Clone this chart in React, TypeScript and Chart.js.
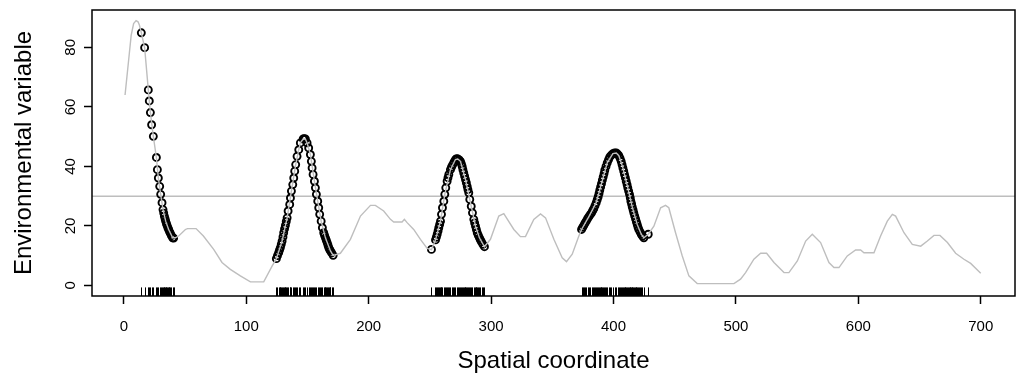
import React, { useEffect, useRef } from 'react';
import { Chart, registerables } from 'chart.js';

Chart.register(...registerables);

// Gray environmental curve (x, y)
const lineX = [1, 4, 6, 8, 10, 11.6, 12.7, 14.3, 17, 20, 21.7, 24.1, 26.6, 28.2, 30.1, 32, 34.2, 36.6, 39.9, 42, 44.8, 50.3, 52, 59, 65, 73.4, 80.2, 87, 95.2, 103.4, 114.3, 121.1, 124.6, 129.3, 133.4, 136.9, 140.4, 142.9, 144.2, 146.5, 148.3, 149.7, 152.4, 155.7, 158.4, 161.2, 164.7, 168.8, 171, 176.9, 185.1, 193.3, 201.5, 205.5, 212.3, 217.8, 220.5, 227.3, 229.2, 231.4, 236.8, 242.3, 247.8, 251.3, 254.6, 258.7, 262.2, 266.8, 270.9, 272.8, 275, 279.1, 283.8, 287.3, 290.5, 294.6, 299.5, 306.3, 310.4, 318.6, 324, 328.1, 334.9, 340.4, 344.5, 351.3, 358.1, 361.6, 366.3, 371.7, 373.9, 379.9, 385.9, 390.2, 394.9, 399.5, 402.3, 404.4, 407.7, 411.7, 415.3, 419.4, 422.7, 424.8, 428.4, 433, 438.5, 442.5, 445.2, 450.7, 456.2, 461.6, 468.4, 498.4, 503.8, 507.9, 514.7, 520.2, 525.1, 531.1, 539.3, 543.3, 550.2, 557, 562.4, 569.2, 576, 580.1, 584.2, 591, 597.8, 601.9, 604.6, 612.8, 618.2, 623.7, 627.8, 630.5, 637.3, 644.1, 651, 656.4, 661.8, 666.7, 672.8, 679.5, 686.3, 691.8, 700];
const lineY = [64, 76, 84, 88, 89, 88.6, 87.5, 84.9, 79.9, 65.7, 58.1, 50.1, 43, 36.1, 30.6, 25.5, 21.6, 18.8, 16, 16, 16.6, 18.8, 19.1, 19.1, 16.6, 12.1, 7.7, 5.4, 3.2, 1.2, 1.2, 6.5, 9, 14.9, 22.7, 31.7, 40.6, 45.6, 47.9, 49.2, 49.2, 47.9, 44, 35, 28.3, 21.6, 16, 11.6, 10.1, 10.8, 15.5, 23.3, 26.9, 26.9, 25, 22.2, 21.3, 21.3, 22.2, 21.1, 18.8, 15.5, 12.4, 12, 15.3, 21.6, 30.6, 38.9, 42.3, 42.5, 41.7, 35.6, 26.6, 19.9, 16, 13, 15.5, 23.3, 24.1, 18.8, 16.4, 16.4, 22.2, 24, 22.7, 15.5, 9.3, 8, 10.5, 16.6, 18.8, 23.1, 27.8, 34.2, 41.2, 44.3, 44.5, 43.6, 39.5, 32.8, 26.4, 20.5, 17.2, 16, 17.2, 19.9, 26.1, 26.9, 26.1, 17.7, 9.9, 3.2, 0.6, 0.6, 2.1, 4.3, 8.8, 10.8, 10.8, 7.7, 4.3, 4.3, 8.2, 14.9, 17.2, 14.4, 7.7, 6, 6, 9.9, 11.9, 11.9, 11, 11, 16.6, 21.6, 23.9, 23.3, 17.7, 13.8, 13.2, 14.9, 16.8, 16.8, 14.4, 10.8, 8.8, 7.4, 4.1];

// Sampled locations (circles + rug)
const peak1X = [14.3, 17.0, 20.0, 20.8, 21.7, 22.7, 24.1, 26.6, 27.4, 28.2, 29.3, 30.1, 31.2, 32.0, 32.6, 33.1, 33.7, 34.2, 34.8, 35.3, 36.0, 36.6, 37.3, 38.0, 38.9, 39.9, 40.7];
const peak1Y = [84.9, 79.9, 65.7, 62.0, 58.1, 54.0, 50.1, 43.0, 38.9, 36.1, 33.3, 30.6, 27.8, 25.5, 24.3, 23.3, 22.4, 21.6, 20.8, 20.2, 19.4, 18.8, 18.1, 17.5, 16.7, 16.0, 15.9];
const peak2X = [124.6, 125.5, 126.5, 127.2, 127.9, 128.6, 129.3, 130.0, 130.6, 131.3, 132.0, 132.7, 133.4, 134.2, 135.5, 136.1, 136.9, 138.0, 138.8, 139.6, 140.4, 141.5, 142.9, 144.2, 146.5, 147.4, 148.3, 149.7, 151.0, 152.4, 153.2, 153.8, 154.6, 155.7, 156.5, 157.3, 158.4, 159.2, 160.0, 161.2, 162.2, 163.3, 164.0, 164.7, 165.4, 166.1, 166.8, 167.4, 168.1, 168.8, 169.8, 171.0];
const peak2Y = [9.0, 10.0, 11.0, 11.9, 12.7, 13.8, 14.9, 16.3, 17.7, 19.0, 20.2, 21.5, 22.7, 25.0, 27.2, 29.4, 31.7, 33.9, 36.1, 38.4, 40.6, 43.4, 45.6, 47.9, 49.2, 49.3, 49.2, 47.9, 46.2, 44.0, 41.7, 39.5, 37.3, 35.0, 32.8, 30.6, 28.3, 26.1, 23.9, 21.6, 19.4, 17.7, 16.8, 16.0, 15.2, 14.4, 13.5, 12.7, 12.1, 11.6, 10.9, 10.1];
const peak3X = [251.3, 254.6, 255.3, 256.0, 256.7, 257.3, 258.0, 258.7, 259.5, 260.3, 261.4, 262.2, 263.0, 264.1, 264.8, 265.5, 266.8, 267.7, 268.7, 269.8, 270.9, 271.9, 272.8, 274.0, 275.0, 275.7, 276.4, 277.0, 277.7, 278.4, 279.1, 279.8, 280.5, 281.1, 281.8, 282.6, 283.8, 284.8, 285.9, 286.6, 287.3, 288.0, 288.7, 289.6, 290.5, 291.3, 292.2, 293.3, 294.6];
const peak3Y = [12.1, 15.3, 16.2, 17.2, 18.3, 19.4, 20.5, 21.6, 23.9, 26.1, 28.3, 30.6, 32.8, 35.0, 36.2, 37.3, 38.9, 39.8, 40.6, 41.5, 42.3, 42.6, 42.5, 42.2, 41.7, 40.9, 40.0, 38.9, 37.8, 36.7, 35.6, 34.5, 33.3, 32.2, 31.1, 28.9, 26.6, 24.4, 22.2, 21.0, 19.9, 18.8, 17.7, 16.8, 16.0, 15.3, 14.6, 13.8, 13.0];
const peak4X = [373.9, 374.8, 375.8, 376.7, 377.7, 378.8, 379.9, 381.0, 382.1, 383.0, 383.9, 384.9, 385.9, 386.7, 387.5, 388.2, 388.8, 389.5, 390.2, 390.9, 391.6, 392.3, 392.9, 393.9, 394.9, 396.0, 397.0, 398.2, 399.5, 400.9, 402.3, 403.4, 404.4, 405.4, 406.3, 407.0, 407.7, 408.4, 409.0, 409.7, 410.4, 411.1, 411.7, 412.4, 413.1, 413.7, 414.2, 414.8, 415.3, 416.0, 416.6, 417.3, 418.0, 418.7, 419.4, 420.0, 420.7, 421.7, 422.7, 423.7, 424.8, 428.4];
const peak4Y = [18.8, 19.5, 20.2, 20.9, 21.6, 22.4, 23.1, 23.8, 24.4, 25.1, 25.8, 26.8, 27.8, 28.8, 29.8, 30.9, 32.0, 33.1, 34.2, 35.4, 36.5, 37.6, 38.7, 40.0, 41.2, 42.3, 43.2, 43.8, 44.3, 44.5, 44.5, 44.1, 43.6, 42.7, 41.7, 40.6, 39.5, 38.4, 37.3, 36.2, 35.0, 33.9, 32.8, 31.7, 30.6, 29.5, 28.3, 27.4, 26.4, 25.4, 24.4, 23.4, 22.4, 21.4, 20.5, 19.6, 18.8, 18.0, 17.2, 16.6, 16.0, 17.2];

const sampleX = [...peak1X, ...peak2X, ...peak3X, ...peak4X];
const sampleY = [...peak1Y, ...peak2Y, ...peak3Y, ...peak4Y];

const xTicks = [0, 100, 200, 300, 400, 500, 600, 700];
const yTicks = [0, 20, 40, 60, 80];
const threshold = 30;

const X_MIN = -26;
const X_MAX = 728;
const Y_MIN = -3.56;
const Y_MAX = 92.56;

const FONT = '"Liberation Sans", Arial, Helvetica, sans-serif';

const rDecor = {
  id: 'rDecor',
  beforeDatasetsDraw(chart: any) {
    const { ctx, chartArea: a, scales } = chart;
    const py = scales.y.getPixelForValue(threshold);
    ctx.save();
    ctx.strokeStyle = '#bebebe';
    ctx.lineWidth = 1.5;
    ctx.beginPath();
    ctx.moveTo(a.left, py);
    ctx.lineTo(a.right, py);
    ctx.stroke();
    ctx.restore();
  },
  afterDatasetsDraw(chart: any) {
    const { ctx, chartArea: a, scales } = chart;
    ctx.save();
    ctx.strokeStyle = '#000';
    ctx.lineWidth = 1;
    const h = (a.bottom - a.top) * 0.03;
    ctx.beginPath();
    for (const v of sampleX) {
      const px = Math.round(scales.x.getPixelForValue(v)) + 0.5;
      ctx.moveTo(px, a.bottom);
      ctx.lineTo(px, a.bottom - h);
    }
    ctx.stroke();
    ctx.lineWidth = 1.5;
    ctx.strokeRect(a.left, a.top, a.right - a.left, a.bottom - a.top);
    ctx.restore();
  },
};

export default function App() {
  const ref = useRef<HTMLCanvasElement | null>(null);
  useEffect(() => {
    if (!ref.current) return;
    const chart = new Chart(ref.current, {
      type: 'scatter',
      data: {
        datasets: [
          {
            data: lineX.map((x, i) => ({ x, y: lineY[i] })),
            showLine: true,
            borderColor: '#bebebe',
            borderWidth: 1.4,
            pointRadius: 0,
            tension: 0,
          },
          {
            data: sampleX.map((x, i) => ({ x, y: sampleY[i] })),
            showLine: false,
            pointRadius: 3.5,
            pointBorderWidth: 1.9,
            pointBorderColor: '#000',
            pointBackgroundColor: 'rgba(0,0,0,0)',
          },
        ],
      },
      options: {
        animation: false,
        responsive: false,
        events: [],
        layout: { autoPadding: false, padding: { top: 10, right: 1, left: 0, bottom: 0 } },
        plugins: { legend: { display: false }, tooltip: { enabled: false } },
        scales: {
          x: {
            type: 'linear',
            min: X_MIN,
            max: X_MAX,
            afterBuildTicks: (s: any) => { s.ticks = xTicks.map((v) => ({ value: v })); },
            afterFit: (s: any) => { s.height = 83; s.paddingLeft = 0; s.paddingRight = 0; },
            grid: { drawOnChartArea: false, drawTicks: true, tickLength: 8, color: '#000', tickWidth: 1.5 },
            border: { display: false },
            ticks: { color: '#000', font: { family: FONT, size: 15 }, padding: 14, maxRotation: 0, autoSkip: false },
            title: { display: true, text: 'Spatial coordinate', color: '#000', font: { family: FONT, size: 24 }, padding: { top: 0, bottom: 3 } },
          },
          y: {
            type: 'linear',
            min: Y_MIN,
            max: Y_MAX,
            afterBuildTicks: (s: any) => { s.ticks = yTicks.map((v) => ({ value: v })); },
            afterFit: (s: any) => { s.width = 92; s.paddingTop = 0; s.paddingBottom = 0; },
            grid: { drawOnChartArea: false, drawTicks: true, tickLength: 8, color: '#000', tickWidth: 1.5 },
            border: { display: false },
            ticks: { color: '#000', font: { family: FONT, size: 15 }, padding: 5, minRotation: 90, maxRotation: 90, crossAlign: 'center', autoSkip: false },
            title: { display: true, text: 'Environmental variable', color: '#000', font: { family: FONT, size: 24 }, padding: { top: 10, bottom: 0 } },
          },
        },
      },
      plugins: [rDecor],
    } as any);
    return () => chart.destroy();
  }, []);
  return (
    <div style={{ position: 'absolute', left: 0, top: 0, width: 1016, height: 379, background: '#fff' }}>
      <canvas ref={ref} width={1016} height={379} style={{ display: 'block' }} />
    </div>
  );
}
